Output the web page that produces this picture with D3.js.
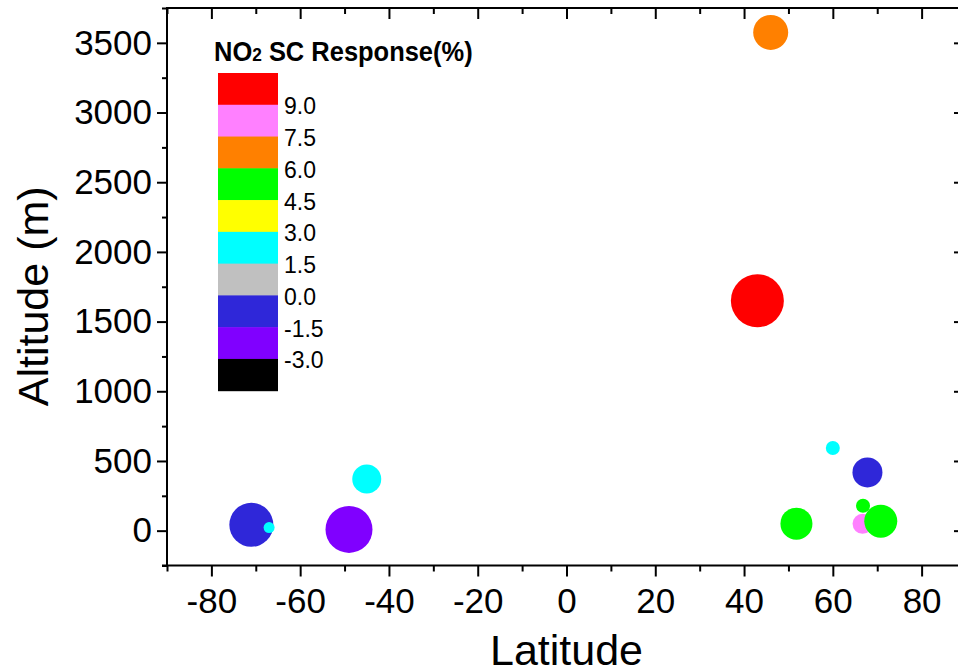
<!DOCTYPE html>
<html>
<head>
<meta charset="utf-8">
<script src="https://cdn.jsdelivr.net/npm/d3@7"></script>
<style>
  html, body { margin: 0; padding: 0; background: #fff; }
  svg { display: block; font-family: "Liberation Sans", Arial, sans-serif; }
</style>
</head>
<body>
<svg id="chart" width="958" height="672"></svg>
<script>
// ---- data ----
const latitude  = [46, 43, 60, 67.8, 66.8, 66.7, 70.8, 51.8, -71, -67, -49, -45];
const altitude  = [3575, 1650, 593, 418, 179, 49, 68, 50, 42, 22, 9, 370];
const response  = [6.8, 9.5, 2.2, -0.8, 5.2, 8.0, 5.5, 5.0, -0.6, 2.0, -2.2, 2.5];
const symbolSize = [35, 53, 14, 30, 14, 20, 33, 32, 44, 11, 47, 29];

const legendBreaks = [-3.0, -1.5, 0.0, 1.5, 3.0, 4.5, 6.0, 7.5, 9.0];
const legendColors = ["#000000", "#8000FF", "#2F27D9", "#C0C0C0", "#00FFFF",
                      "#FFFF00", "#00FF00", "#FF8000", "#FF80FF", "#FF0000"];

const xMajorTicks = [-80, -60, -40, -20, 0, 20, 40, 60, 80];
const xMinorTicks = [-90, -70, -50, -30, -10, 10, 30, 50, 70, 90];
const yMajorTicks = [0, 500, 1000, 1500, 2000, 2500, 3000, 3500];
const yMinorTicks = [-250, 250, 750, 1250, 1750, 2250, 2750, 3250, 3750];

// ---- layout ----
const svg = d3.select("#chart");
const L = 167, R = 966, T = 8, B = 565.5;

const x = d3.scaleLinear().domain([-90, 90]).range([L, R]);
const y = d3.scaleLinear().domain([-250, 3750]).range([B, T]);
const color = d3.scaleThreshold().domain(legendBreaks).range(legendColors);
const rScale = d3.scaleLinear().domain([0, 53]).range([0, 26.5]);

const fmt = d => String(d);
const fmt1 = d => d.toFixed(1);

function styleAxis(g, showText) {
  g.select(".domain").remove();
  g.selectAll(".tick line").attr("stroke", "#000").attr("stroke-width", 2);
  g.selectAll(".tick text")
    .attr("fill", "#000")
    .style("font-size", "35px")
    .style("font-family", "'Liberation Sans', Arial, sans-serif");
  if (!showText) g.selectAll(".tick text").remove();
}

// bottom axis (major + minor)
svg.append("g").attr("transform", `translate(0,${B})`)
  .call(d3.axisBottom(x).tickValues(xMajorTicks).tickSize(11).tickPadding(11.5).tickFormat(fmt))
  .call(g => styleAxis(g, true));
svg.append("g").attr("transform", `translate(0,${B})`)
  .call(d3.axisBottom(x).tickValues(xMinorTicks).tickSize(6))
  .call(g => styleAxis(g, false));
// top axis (inward)
svg.append("g").attr("transform", `translate(0,${T})`)
  .call(d3.axisBottom(x).tickValues(xMajorTicks).tickSize(11))
  .call(g => styleAxis(g, false));
svg.append("g").attr("transform", `translate(0,${T})`)
  .call(d3.axisBottom(x).tickValues(xMinorTicks).tickSize(6))
  .call(g => styleAxis(g, false));
// left axis
svg.append("g").attr("transform", `translate(${L},0)`)
  .call(d3.axisLeft(y).tickValues(yMajorTicks).tickSize(10).tickPadding(5).tickFormat(fmt))
  .call(g => styleAxis(g, true));
svg.append("g").attr("transform", `translate(${L},0)`)
  .call(d3.axisLeft(y).tickValues(yMinorTicks).tickSize(5))
  .call(g => styleAxis(g, false));
// right axis (inward)
svg.append("g").attr("transform", `translate(${R},0)`)
  .call(d3.axisLeft(y).tickValues(yMajorTicks).tickSize(12))
  .call(g => styleAxis(g, false));
svg.append("g").attr("transform", `translate(${R},0)`)
  .call(d3.axisLeft(y).tickValues(yMinorTicks).tickSize(6))
  .call(g => styleAxis(g, false));

// frame
const frame = svg.append("g").attr("stroke", "#000").attr("stroke-width", 2).attr("fill", "none");
frame.append("line").attr("x1", L).attr("x2", L).attr("y1", T - 1).attr("y2", B + 1);
frame.append("line").attr("x1", L - 5).attr("x2", R).attr("y1", B).attr("y2", B);
frame.append("line").attr("x1", L - 1).attr("x2", R).attr("y1", T).attr("y2", T);
frame.append("line").attr("x1", R).attr("x2", R).attr("y1", T).attr("y2", B);

// axis titles
svg.append("text")
  .attr("x", (L + R) / 2).attr("y", 664.5)
  .attr("text-anchor", "middle")
  .style("font-size", "43px")
  .text("Latitude");
svg.append("text")
  .attr("transform", "translate(47.7,296.3) rotate(-90)")
  .attr("text-anchor", "middle")
  .style("font-size", "43px")
  .text("Altitude (m)");

// points
const pts = latitude.map((lat, i) => ({ lat, alt: altitude[i], resp: response[i], size: symbolSize[i] }));
svg.append("g").selectAll("circle").data(pts).join("circle")
  .attr("cx", d => x(d.lat))
  .attr("cy", d => y(d.alt))
  .attr("r", d => rScale(d.size))
  .attr("fill", d => color(d.resp));

// legend
const lg = svg.append("g");
const swatchOrder = legendColors.slice().reverse();
const band = d3.scaleBand().domain(d3.range(swatchOrder.length)).range([73, 390.7]).paddingInner(0);
lg.selectAll("rect").data(swatchOrder).join("rect")
  .attr("x", 218).attr("width", 60)
  .attr("y", (d, i) => band(i))
  .attr("height", band.bandwidth() + 0.5)
  .attr("fill", d => d);
const labels = legendBreaks.slice().reverse();
lg.selectAll("text.lab").data(labels).join("text")
  .attr("class", "lab")
  .attr("x", 284)
  .attr("y", (d, i) => band(i) + band.bandwidth() + 9.5)
  .style("font-size", "23px")
  .text(d => fmt1(d));

const title = lg.append("text")
  .attr("transform", "translate(214,61) scale(0.91,1)")
  .style("font-size", "28px")
  .style("font-weight", "bold");
title.append("tspan").text("NO");
title.append("tspan").style("font-size", "19px").text("2");
title.append("tspan").text(" SC Response(%)");
</script>
</body>
</html>
